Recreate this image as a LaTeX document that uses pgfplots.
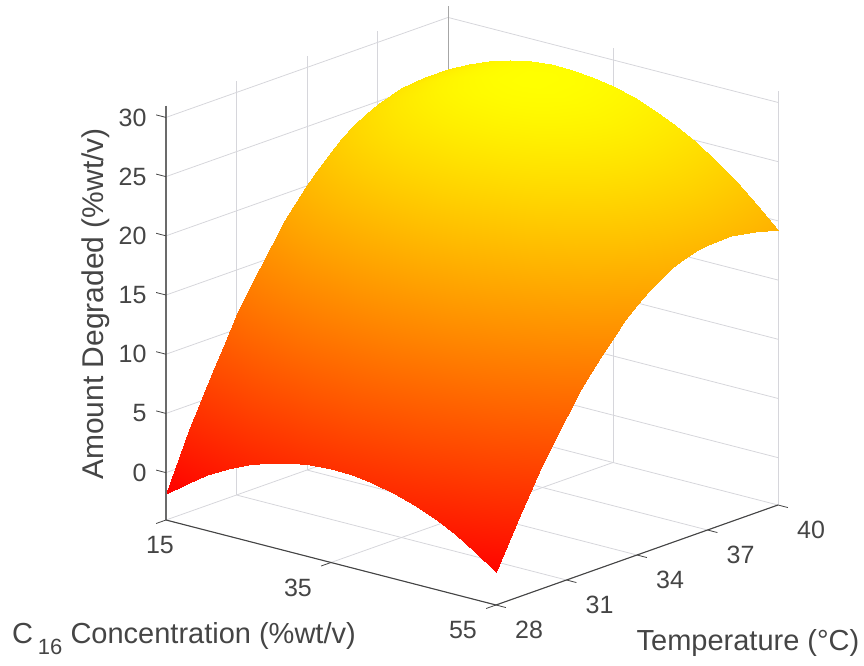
\documentclass[border=0pt]{standalone}
\usepackage{pgfplots}
\pgfplotsset{compat=1.18}
\usepackage{fontspec}
\setmainfont{Liberation Sans}
\usetikzlibrary{calc}
\definecolor{axc}{gray}{0.27}
\definecolor{gridc}{rgb}{0.84,0.84,0.86}
\begin{document}
\begin{tikzpicture}
\begin{axis}[
  x={(8.25pt,-2.125pt)}, y={(23.5pt,8.333pt)}, z={(0pt,11.84pt)},
  xmin=15,xmax=55,ymin=28,ymax=40,zmin=-4,zmax=31,
  xtick={15,35,55}, ytick={28,31,34,37,40}, ztick={0,5,10,15,20,25,30},
  xticklabels={\hspace*{54pt}15,35,55},
  grid=major, major grid style={gridc,line width=0.8pt},
  axis line style={draw=none},
  tick style={draw=none}, major tick length=0pt, tick align=inside,
  tick label style={font=\fontsize{25}{30}\selectfont,text=axc},
  xticklabel style={anchor=center,xshift=-33pt,yshift=-25pt},
  yticklabel style={anchor=center,xshift=33pt,yshift=-25pt},
  zticklabel style={anchor=east,xshift=-16pt},
  /pgf/number format/assume math mode=true,
  clip=false,
  colormap={autumn}{rgb=(1,0,0) rgb=(1,1,0)},
  point meta min=-1.8, point meta max=28.5,
]
\addplot3[gray!70,line width=0.9pt,forget plot] coordinates {(15,40,-4)(15,40,31)};
\addplot3[surf,shader=interp,mesh/cols=17,z buffer=sort,point meta=z] coordinates {
(15,28,-1.77)(17.5,28,-0.47)(20,28,0.66)(22.5,28,1.62)(25,28,2.42)(27.5,28,3.04)(30,28,3.50)(32.5,28,3.79)(35,28,3.91)(37.5,28,3.86)(40,28,3.64)(42.5,28,3.25)(45,28,2.69)(47.5,28,1.97)(50,28,1.07)(52.5,28,0.01)(55,28,-1.22)
(15,29,2.92)(17.5,29,4.18)(20,29,5.28)(22.5,29,6.20)(25,29,6.96)(27.5,29,7.55)(30,29,7.97)(32.5,29,8.22)(35,29,8.30)(37.5,29,8.21)(40,29,7.96)(42.5,29,7.53)(45,29,6.94)(47.5,29,6.17)(50,29,5.24)(52.5,29,4.14)(55,29,2.87)
(15,30,7.21)(17.5,30,8.44)(20,30,9.49)(22.5,30,10.38)(25,30,11.10)(27.5,30,11.65)(30,30,12.04)(32.5,30,12.25)(35,30,12.30)(37.5,30,12.17)(40,30,11.88)(42.5,30,11.41)(45,30,10.78)(47.5,30,9.98)(50,30,9.01)(52.5,30,7.88)(55,30,6.57)
(15,30.5,9.21)(17.5,30.5,10.42)(20,30.5,11.45)(22.5,30.5,12.32)(25,30.5,13.02)(27.5,30.5,13.56)(30,30.5,13.92)(32.5,30.5,14.12)(35,30.5,14.15)(37.5,30.5,14.00)(40,30.5,13.69)(42.5,30.5,13.21)(45,30.5,12.56)(47.5,30.5,11.74)(50,30.5,10.75)(52.5,30.5,9.60)(55,30.5,8.28)
(15,31,11.09)(17.5,31,12.28)(20,31,13.30)(22.5,31,14.15)(25,31,14.83)(27.5,31,15.35)(30,31,15.69)(32.5,31,15.87)(35,31,15.88)(37.5,31,15.72)(40,31,15.39)(42.5,31,14.89)(45,31,14.22)(47.5,31,13.39)(50,31,12.38)(52.5,31,11.21)(55,31,9.87)
(15,31.5,12.86)(17.5,31.5,14.03)(20,31.5,15.03)(22.5,31.5,15.86)(25,31.5,16.53)(27.5,31.5,17.03)(30,31.5,17.35)(32.5,31.5,17.51)(35,31.5,17.50)(37.5,31.5,17.32)(40,31.5,16.98)(42.5,31.5,16.46)(45,31.5,15.77)(47.5,31.5,14.92)(50,31.5,13.90)(52.5,31.5,12.71)(55,31.5,11.35)
(15,32,14.51)(17.5,32,15.66)(20,32,16.65)(22.5,32,17.46)(25,32,18.11)(27.5,32,18.59)(30,32,18.90)(32.5,32,19.04)(35,32,19.01)(37.5,32,18.81)(40,32,18.45)(42.5,32,17.91)(45,32,17.21)(47.5,32,16.34)(50,32,15.30)(52.5,32,14.09)(55,32,12.71)
(15,32.5,16.08)(17.5,32.5,17.21)(20,32.5,18.18)(22.5,32.5,18.97)(25,32.5,19.60)(27.5,32.5,20.06)(30,32.5,20.35)(32.5,32.5,20.48)(35,32.5,20.43)(37.5,32.5,20.21)(40,32.5,19.83)(42.5,32.5,19.27)(45,32.5,18.55)(47.5,32.5,17.66)(50,32.5,16.60)(52.5,32.5,15.38)(55,32.5,13.98)
(15,33,17.53)(17.5,33,18.65)(20,33,19.59)(22.5,33,20.37)(25,33,20.98)(27.5,33,21.42)(30,33,21.69)(32.5,33,21.80)(35,33,21.73)(37.5,33,21.50)(40,33,21.09)(42.5,33,20.52)(45,33,19.78)(47.5,33,18.87)(50,33,17.79)(52.5,33,16.55)(55,33,15.13)
(15,33.5,18.86)(17.5,33.5,19.96)(20,33.5,20.89)(22.5,33.5,21.65)(25,33.5,22.24)(27.5,33.5,22.66)(30,33.5,22.92)(32.5,33.5,23.01)(35,33.5,22.92)(37.5,33.5,22.67)(40,33.5,22.25)(42.5,33.5,21.66)(45,33.5,20.90)(47.5,33.5,19.97)(50,33.5,18.88)(52.5,33.5,17.62)(55,33.5,16.18)
(15,34,20.08)(17.5,34,21.16)(20,34,22.07)(22.5,34,22.81)(25,34,23.39)(27.5,34,23.79)(30,34,24.03)(32.5,34,24.10)(35,34,24.00)(37.5,34,23.73)(40,34,23.29)(42.5,34,22.68)(45,34,21.91)(47.5,34,20.96)(50,34,19.85)(52.5,34,18.57)(55,34,17.12)
(15,34.5,21.19)(17.5,34.5,22.25)(20,34.5,23.14)(22.5,34.5,23.87)(25,34.5,24.42)(27.5,34.5,24.81)(30,34.5,25.03)(32.5,34.5,25.08)(35,34.5,24.96)(37.5,34.5,24.67)(40,34.5,24.22)(42.5,34.5,23.59)(45,34.5,22.80)(47.5,34.5,21.83)(50,34.5,20.70)(52.5,34.5,19.40)(55,34.5,17.94)
(15,35,22.18)(17.5,35,23.22)(20,35,24.10)(22.5,35,24.81)(25,35,25.34)(27.5,35,25.71)(30,35,25.91)(32.5,35,25.94)(35,35,25.81)(37.5,35,25.50)(40,35,25.03)(42.5,35,24.38)(45,35,23.57)(47.5,35,22.59)(50,35,21.44)(52.5,35,20.12)(55,35,18.64)
(15,35.5,23.01)(17.5,35.5,24.03)(20,35.5,24.89)(22.5,35.5,25.58)(25,35.5,26.10)(27.5,35.5,26.45)(30,35.5,26.63)(32.5,35.5,26.64)(35,35.5,26.49)(37.5,35.5,26.16)(40,35.5,25.67)(42.5,35.5,25.01)(45,35.5,24.18)(47.5,35.5,23.18)(50,35.5,22.01)(52.5,35.5,20.67)(55,35.5,19.17)
(15,36,23.72)(17.5,36,24.73)(20,36,25.57)(22.5,36,26.24)(25,36,26.74)(27.5,36,27.07)(30,36,27.23)(32.5,36,27.23)(35,36,27.05)(37.5,36,26.71)(40,36,26.20)(42.5,36,25.52)(45,36,24.67)(47.5,36,23.65)(50,36,22.46)(52.5,36,21.11)(55,36,19.58)
(15,36.5,24.32)(17.5,36.5,25.31)(20,36.5,26.13)(22.5,36.5,26.78)(25,36.5,27.26)(27.5,36.5,27.58)(30,36.5,27.72)(32.5,36.5,27.70)(35,36.5,27.50)(37.5,36.5,27.14)(40,36.5,26.61)(42.5,36.5,25.92)(45,36.5,25.05)(47.5,36.5,24.01)(50,36.5,22.80)(52.5,36.5,21.43)(55,36.5,19.89)
(15,37,24.80)(17.5,37,25.77)(20,37,26.57)(22.5,37,27.21)(25,37,27.67)(27.5,37,27.97)(30,37,28.09)(32.5,37,28.05)(35,37,27.84)(37.5,37,27.46)(40,37,26.91)(42.5,37,26.20)(45,37,25.31)(47.5,37,24.26)(50,37,23.03)(52.5,37,21.64)(55,37,20.08)
(15,38,25.43)(17.5,38,26.36)(20,38,27.13)(22.5,38,27.72)(25,38,28.15)(27.5,38,28.41)(30,38,28.50)(32.5,38,28.42)(35,38,28.18)(37.5,38,27.76)(40,38,27.18)(42.5,38,26.42)(45,38,25.50)(47.5,38,24.41)(50,38,23.15)(52.5,38,21.72)(55,38,20.12)
(15,39,25.65)(17.5,39,26.55)(20,39,27.27)(22.5,39,27.83)(25,39,28.23)(27.5,39,28.45)(30,39,28.50)(32.5,39,28.39)(35,39,28.10)(37.5,39,27.65)(40,39,27.03)(42.5,39,26.24)(45,39,25.28)(47.5,39,24.15)(50,39,22.86)(52.5,39,21.39)(55,39,19.76)
(15,40,25.65)(17.5,40,26.51)(20,40,27.20)(22.5,40,27.73)(25,40,28.08)(27.5,40,28.27)(30,40,28.29)(32.5,40,28.14)(35,40,27.82)(37.5,40,27.33)(40,40,26.67)(42.5,40,25.85)(45,40,24.85)(47.5,40,23.69)(50,40,22.36)(52.5,40,20.86)(55,40,19.19)
};
\addplot3[color={rgb,1:red,0.42;green,0.42;blue,0.42},line width=1.3pt,forget plot] coordinates {(15,28,31)(15,28,-4)};
\addplot3[axc,line width=1.1pt,forget plot] coordinates {(15,28,-4)(55,28,-4)(55,40,-4)};
\addplot3[axc,line width=0.8pt,forget plot,unbounded coords=jump] coordinates {
(15,28,0)(13.8,28,0)(15,28,nan)
(15,28,5)(13.8,28,5)(15,28,nan)
(15,28,10)(13.8,28,10)(15,28,nan)
(15,28,15)(13.8,28,15)(15,28,nan)
(15,28,20)(13.8,28,20)(15,28,nan)
(15,28,25)(13.8,28,25)(15,28,nan)
(15,28,30)(13.8,28,30)(15,28,nan)
(15,28,-4)(15,27.58,-4)(15,28,nan)
(35,28,-4)(35,27.58,-4)(35,28,nan)
(55,28,-4)(55,27.58,-4)(55,28,nan)
(55,28,-4)(56.2,28,-4)(55,28,nan)
(55,31,-4)(56.2,31,-4)(55,31,nan)
(55,34,-4)(56.2,34,-4)(55,34,nan)
(55,37,-4)(56.2,37,-4)(55,37,nan)
(55,40,-4)(56.2,40,-4)
};
\coordinate (O) at (axis cs:15,28,-4);
\end{axis}
\node[rotate=90,text=axc,font=\fontsize{30}{36}\selectfont] at ($(O)+(-70pt,216pt)$) {Amount Degraded (\%wt/v)};
\node[text=axc,font=\fontsize{29}{36}\selectfont] at ($(O)+(18pt,-116pt)$) {C\,\smash{\raisebox{-11pt}{\fontsize{22}{22}\selectfont 16}} Concentration (\%wt/v)};
\node[text=axc,font=\fontsize{29}{36}\selectfont] at ($(O)+(582pt,-123pt)$) {Temperature (°C)};
\pgfresetboundingbox
\path[use as bounding box] ($(O)+(-166pt,520pt)$) rectangle ($(O)+(698pt,-146pt)$);
\end{tikzpicture}
\end{document}
